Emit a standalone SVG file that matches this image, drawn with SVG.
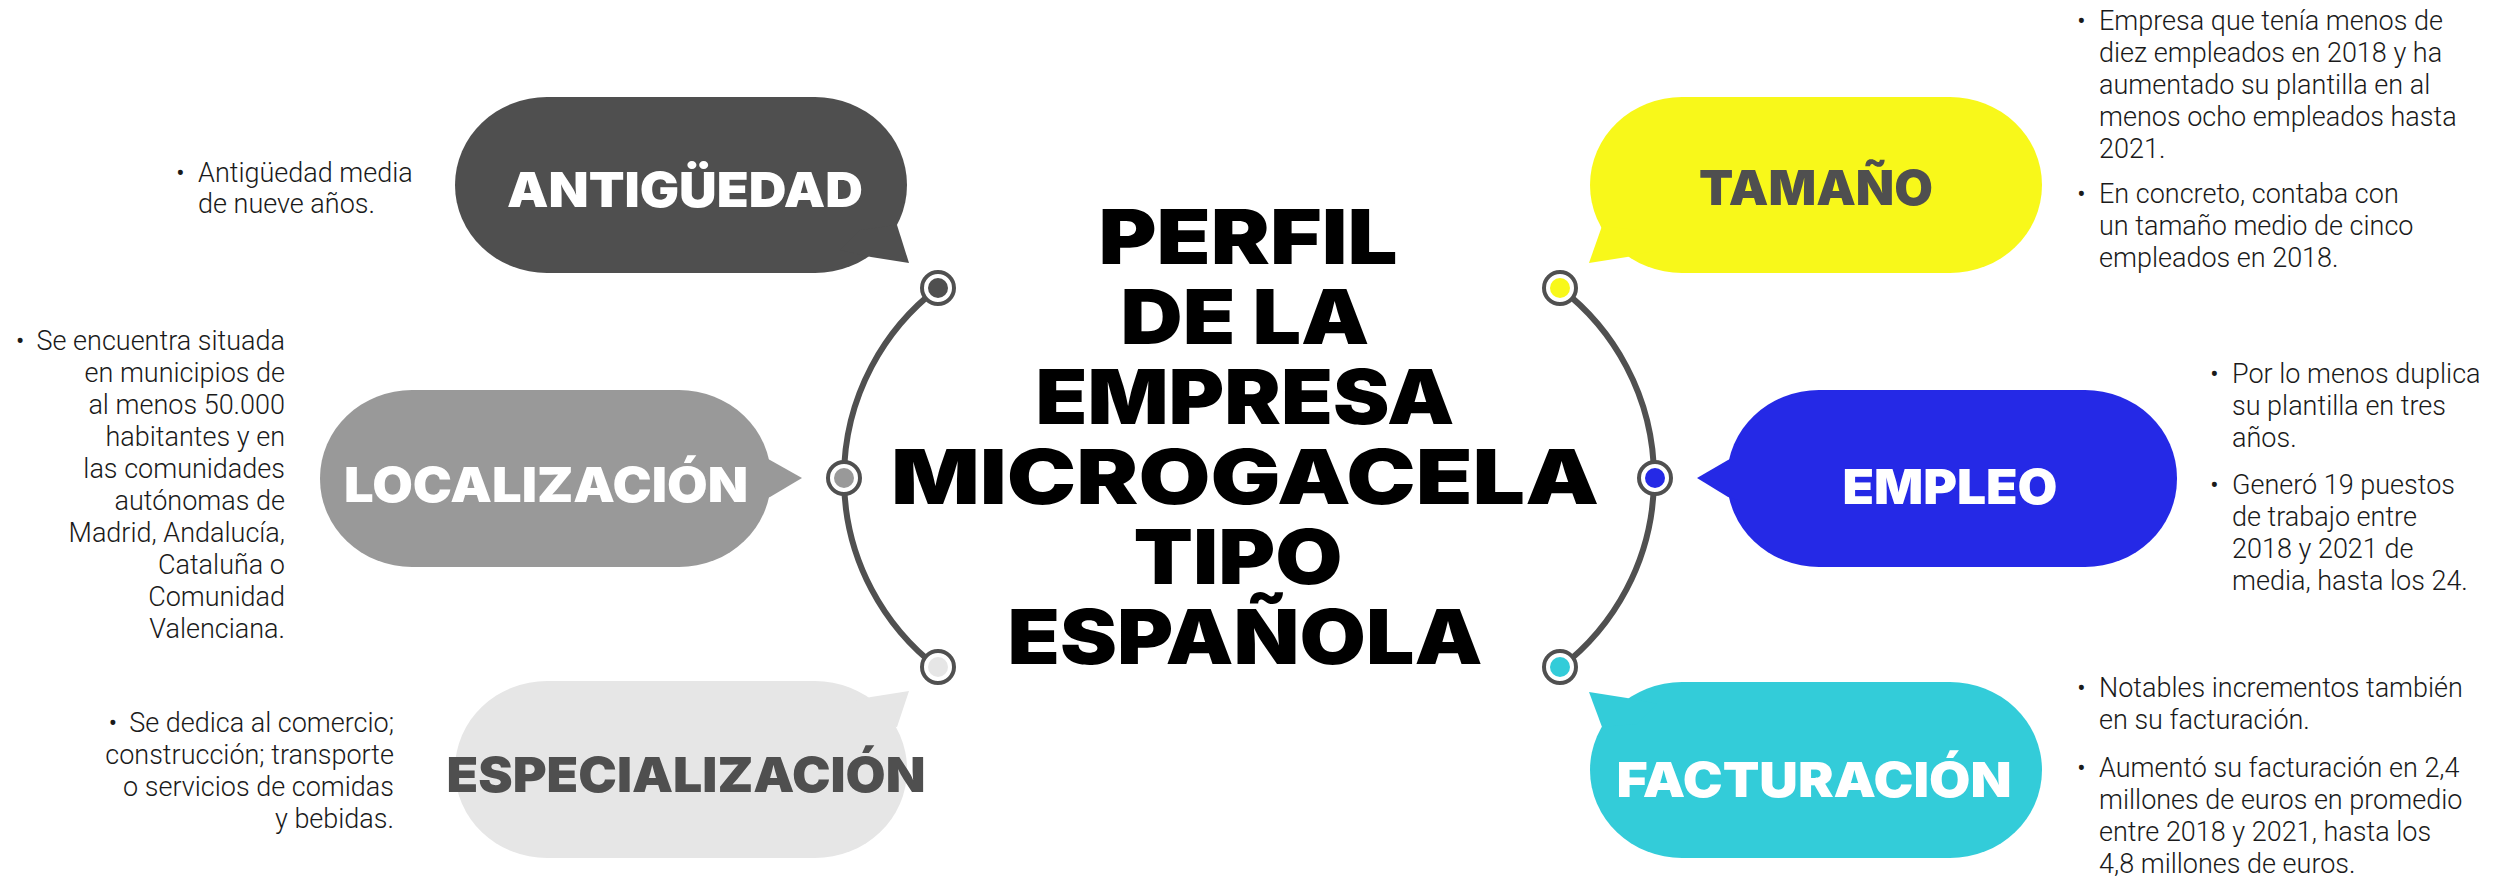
<svg xmlns="http://www.w3.org/2000/svg" width="2514" height="876" viewBox="0 0 2514 876">
<style>
.ttl{font-family:"Inter","Lato","Liberation Sans",sans-serif;font-weight:900;text-anchor:middle}
.bt{font-family:"Inter","Lato","Liberation Sans",sans-serif;font-weight:900;font-size:48px;text-anchor:middle}
.tx{font-family:"Roboto","Liberation Sans",sans-serif;font-weight:300;font-size:27px;fill:#1a1a1a}
.r{text-anchor:end}
.arc{fill:none;stroke:#505050;stroke-width:6}
.ring{fill:#fff;stroke:#505050;stroke-width:4}
</style>
<rect width="2514" height="876" fill="#fff"/>
<g id="connectors">
<path class="arc" d="M938 288 A239 239 0 0 0 938 668"/>
<path class="arc" d="M1560 288 A239 239 0 0 1 1560 668"/>
</g>
<g id="nodes-dots">
<circle class="ring" cx="938" cy="288" r="16"/><circle cx="938" cy="288" r="10" fill="#4f4f4f"/>
<circle class="ring" cx="844" cy="478" r="16"/><circle cx="844" cy="478" r="10" fill="#999"/>
<circle class="ring" cx="938" cy="667" r="16"/><circle cx="938" cy="667" r="10" fill="#e6e6e6"/>
<circle class="ring" cx="1560" cy="288" r="16"/><circle cx="1560" cy="288" r="10" fill="#f8f81a"/>
<circle class="ring" cx="1655" cy="478" r="16"/><circle cx="1655" cy="478" r="10" fill="#2529e6"/>
<circle class="ring" cx="1560" cy="667" r="16"/><circle cx="1560" cy="667" r="10" fill="#33ccd9"/>
</g>
<g id="title">
<text class="ttl" font-size="76" x="1248" y="264" textLength="299" lengthAdjust="spacingAndGlyphs">PERFIL</text>
<text class="ttl" font-size="76" x="1245" y="344" textLength="249" lengthAdjust="spacingAndGlyphs">DE LA</text>
<text class="ttl" font-size="76" x="1245" y="424" textLength="419" lengthAdjust="spacingAndGlyphs">EMPRESA</text>
<text class="ttl" font-size="76" x="1245" y="504" textLength="708" lengthAdjust="spacingAndGlyphs">MICROGACELA</text>
<text class="ttl" font-size="76" x="1238" y="584" textLength="209" lengthAdjust="spacingAndGlyphs">TIPO</text>
<text class="ttl" font-size="76" x="1245" y="664" textLength="475" lengthAdjust="spacingAndGlyphs">ESPAÑOLA</text>
</g>
<g id="antiguedad">
<rect x="455" y="97" width="452" height="176" rx="92" ry="88" fill="#4f4f4f"/>
<polygon points="840,250 860,230 897,225 909,263 871,257" fill="#4f4f4f"/>
<text class="bt" x="685" y="207" fill="#fff" textLength="356" lengthAdjust="spacingAndGlyphs">ANTIGÜEDAD</text>
<text class="tx" x="176" y="182">•</text>
<text class="tx" x="198" y="182">Antigüedad media</text>
<text class="tx" x="198" y="213">de nueve años.</text>
</g>
<g id="localizacion">
<rect x="320" y="390" width="451" height="177" rx="92" ry="88" fill="#999"/>
<polygon points="760,455 770,460 802,478 770,497 760,500" fill="#999"/>
<text class="bt" x="546" y="502" fill="#fff" textLength="404" lengthAdjust="spacingAndGlyphs">LOCALIZACIÓN</text>
<text class="tx r" x="285" y="350"><tspan>•</tspan><tspan dx="12">Se encuentra situada</tspan></text>
<text class="tx r" x="285" y="382">en municipios de</text>
<text class="tx r" x="285" y="414">al menos 50.000</text>
<text class="tx r" x="285" y="446">habitantes y en</text>
<text class="tx r" x="285" y="478">las comunidades</text>
<text class="tx r" x="285" y="510">autónomas de</text>
<text class="tx r" x="285" y="542">Madrid, Andalucía,</text>
<text class="tx r" x="285" y="574">Cataluña o</text>
<text class="tx r" x="285" y="606">Comunidad</text>
<text class="tx r" x="285" y="638">Valenciana.</text>
</g>
<g id="especializacion">
<rect x="455" y="681" width="452" height="177" rx="92" ry="88" fill="#e6e6e6"/>
<polygon points="840,704 860,724 897,727 909,691 871,697" fill="#e6e6e6"/>
<text class="bt" x="686" y="792" fill="#4f4f4f" textLength="479" lengthAdjust="spacingAndGlyphs">ESPECIALIZACIÓN</text>
<text class="tx r" x="394" y="732"><tspan>•</tspan><tspan dx="12">Se dedica al comercio;</tspan></text>
<text class="tx r" x="394" y="764">construcción; transporte</text>
<text class="tx r" x="394" y="796">o servicios de comidas</text>
<text class="tx r" x="394" y="828">y bebidas.</text>
</g>
<g id="tamano">
<rect x="1590" y="97" width="452" height="176" rx="92" ry="88" fill="#f8f81a"/>
<polygon points="1657,250 1637,230 1602,226 1589,263 1627,257" fill="#f8f81a"/>
<text class="bt" x="1816" y="205" fill="#4f4f4f" textLength="234" lengthAdjust="spacingAndGlyphs">TAMAÑO</text>
<text class="tx" x="2077" y="30">•</text>
<text class="tx" x="2099" y="30">Empresa que tenía menos de</text>
<text class="tx" x="2099" y="62">diez empleados en 2018 y ha</text>
<text class="tx" x="2099" y="94">aumentado su plantilla en al</text>
<text class="tx" x="2099" y="126">menos ocho empleados hasta</text>
<text class="tx" x="2099" y="158">2021.</text>
<text class="tx" x="2077" y="203">•</text>
<text class="tx" x="2099" y="203">En concreto, contaba con</text>
<text class="tx" x="2099" y="235">un tamaño medio de cinco</text>
<text class="tx" x="2099" y="267">empleados en 2018.</text>
</g>
<g id="empleo">
<rect x="1727" y="390" width="450" height="177" rx="92" ry="88" fill="#2529e6"/>
<polygon points="1738,455 1728,460 1697,478 1728,497 1738,500" fill="#2529e6"/>
<text class="bt" x="1950" y="504" fill="#fff" textLength="215" lengthAdjust="spacingAndGlyphs">EMPLEO</text>
<text class="tx" x="2210" y="383">•</text>
<text class="tx" x="2232" y="383">Por lo menos duplica</text>
<text class="tx" x="2232" y="415">su plantilla en tres</text>
<text class="tx" x="2232" y="447">años.</text>
<text class="tx" x="2210" y="494">•</text>
<text class="tx" x="2232" y="494">Generó 19 puestos</text>
<text class="tx" x="2232" y="526">de trabajo entre</text>
<text class="tx" x="2232" y="558">2018 y 2021 de</text>
<text class="tx" x="2232" y="590">media, hasta los 24.</text>
</g>
<g id="facturacion">
<rect x="1590" y="682" width="452" height="176" rx="92" ry="88" fill="#33ccd9"/>
<polygon points="1657,704 1637,724 1602,727 1589,692 1627,698" fill="#33ccd9"/>
<text class="bt" x="1814" y="797" fill="#fff" textLength="395" lengthAdjust="spacingAndGlyphs">FACTURACIÓN</text>
<text class="tx" x="2077" y="697">•</text>
<text class="tx" x="2099" y="697">Notables incrementos también</text>
<text class="tx" x="2099" y="729">en su facturación.</text>
<text class="tx" x="2077" y="777">•</text>
<text class="tx" x="2099" y="777">Aumentó su facturación en 2,4</text>
<text class="tx" x="2099" y="809">millones de euros en promedio</text>
<text class="tx" x="2099" y="841">entre 2018 y 2021, hasta los</text>
<text class="tx" x="2099" y="873">4,8 millones de euros.</text>
</g>
</svg>
